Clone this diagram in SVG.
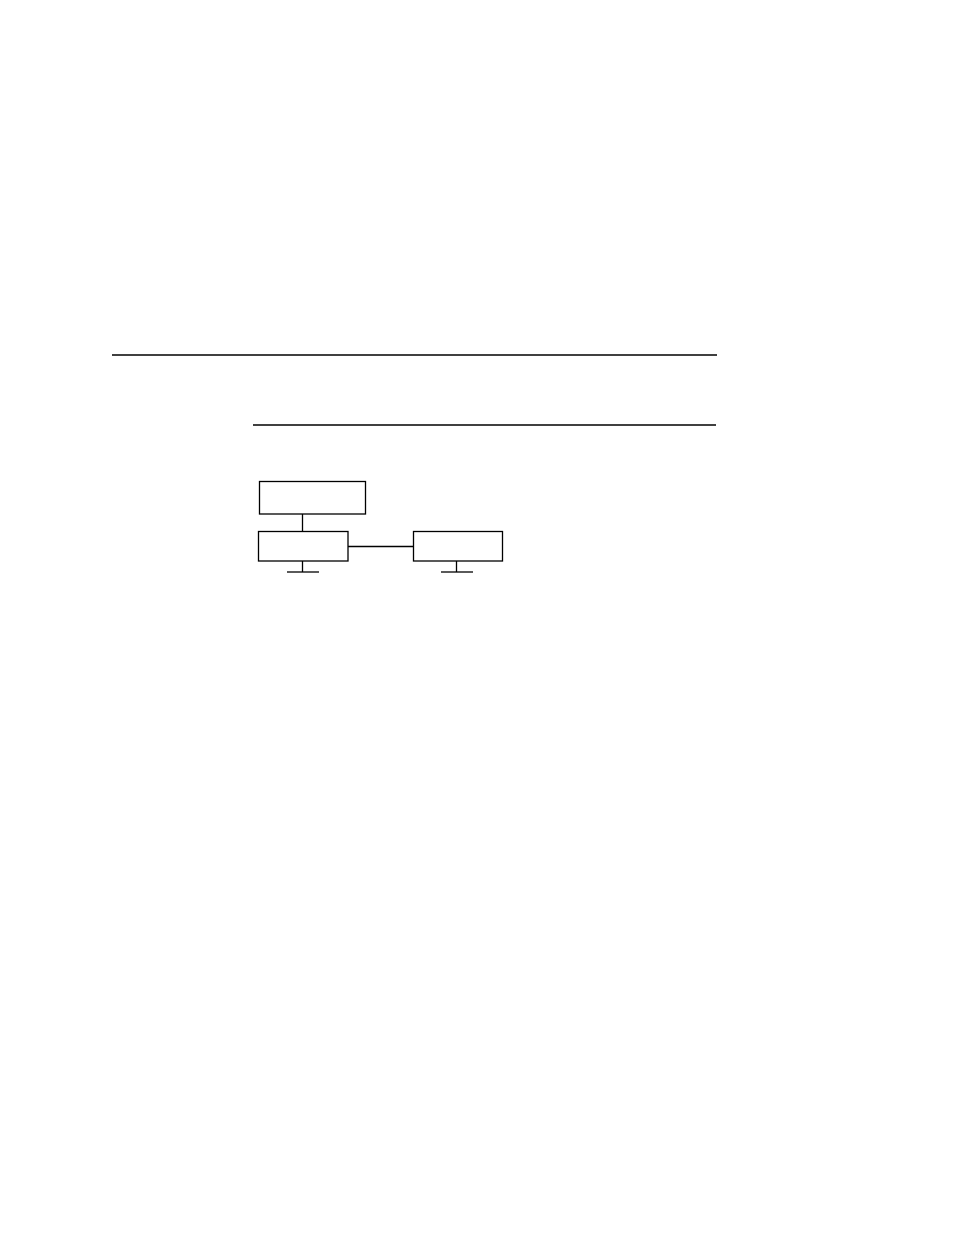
<svg xmlns="http://www.w3.org/2000/svg" width="954" height="1235" viewBox="0 0 954 1235">
<style>
.box{fill:#fff;stroke:#000;stroke-width:1.3}
.ln{stroke:#000;stroke-width:1.3;fill:none}
</style>
<rect width="954" height="1235" fill="#fff"/>
<g id="rules">
<line class="ln" x1="112" y1="355" x2="717" y2="355"/>
<line class="ln" x1="253" y1="425" x2="716" y2="425"/>
</g>
<g id="connectors">
<line class="ln" x1="302.5" y1="514" x2="302.5" y2="531.5"/>
<line class="ln" x1="348" y1="546.5" x2="413.5" y2="546.5"/>
<line class="ln" x1="302.5" y1="561" x2="302.5" y2="572"/>
<line class="ln" x1="287" y1="572" x2="319" y2="572"/>
<line class="ln" x1="456.5" y1="561" x2="456.5" y2="572"/>
<line class="ln" x1="441" y1="572" x2="473" y2="572"/>
</g>
<g id="node-top"><rect class="box" x="259.5" y="481.5" width="106" height="32.5"/></g>
<g id="node-left"><rect class="box" x="258.5" y="531.5" width="89.5" height="29.5"/></g>
<g id="node-right"><rect class="box" x="413.5" y="531.5" width="89" height="29.5"/></g>
</svg>
